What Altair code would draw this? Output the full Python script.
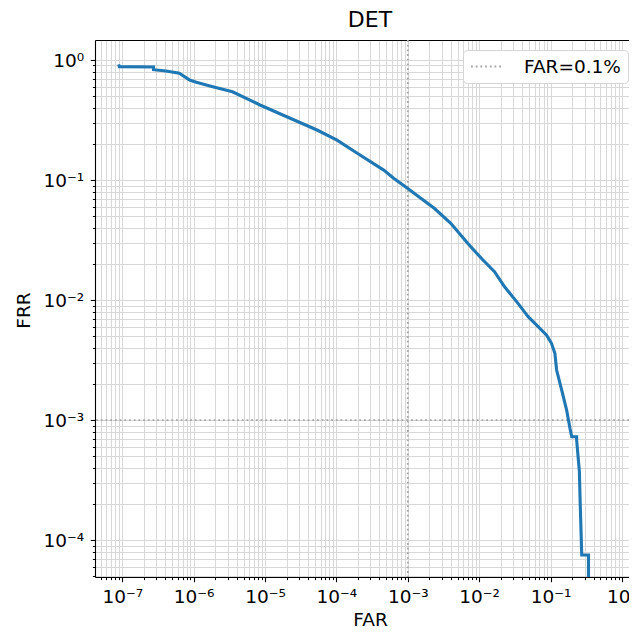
import altair as alt
import pandas as pd

# ---- data ----
far = [8.9e-8, 9.1e-8, 2.74e-7, 2.74e-7, 4.1e-7, 6.3e-7, 8.8e-7, 1.09e-6, 1.85e-6,
       3.5e-6, 6.15e-6, 8.5e-6, 2.25e-5, 5.35e-5, 1.02e-4, 1.96e-4, 4.6e-4, 6.4e-4,
       9.9e-4, 1.52e-3, 2.35e-3, 4.0e-3, 6.9e-3, 1.07e-2, 1.64e-2, 2.27e-2, 3.5e-2,
       4.85e-2, 6.7e-2, 8.8e-2, 0.103, 0.115, 0.1216, 0.143, 0.168, 0.187, 0.198,
       0.232, 0.232, 0.2535, 0.259, 0.2735, 0.34, 0.34]
frr = [0.92, 0.88, 0.874, 0.830, 0.81, 0.775, 0.681, 0.652, 0.599, 0.544, 0.464,
       0.422, 0.327, 0.261, 0.215, 0.167, 0.121, 0.103, 0.0853, 0.0704, 0.0581,
       0.0436, 0.0297, 0.0223, 0.0172, 0.0129, 0.00938, 0.00727, 0.0060, 0.0051,
       0.00436, 0.0036, 0.00261, 0.00178, 0.00121, 0.000853, 0.000726, 0.000726,
       0.000681, 0.000371, 0.000223, 7.5e-5, 7.5e-5, 1e-6]

threshold_far = [1e-3]
threshold_frr = [1e-3]
threshold_label = ["FAR=0.1%"]

x_major = [1e-7, 1e-6, 1e-5, 1e-4, 1e-3, 1e-2, 1e-1, 1e0]
x_labels = ["10⁻⁷", "10⁻⁶", "10⁻⁵", "10⁻⁴", "10⁻³", "10⁻²", "10⁻¹", "10⁰"]
y_major = [1e-4, 1e-3, 1e-2, 1e-1, 1e0]
y_labels = ["10⁻⁴", "10⁻³", "10⁻²", "10⁻¹", "10⁰"]

X_MIN, X_MAX = 4.15e-8, 1.256
Y_MIN, Y_MAX = 4.92e-5, 1.468

x_minor = [m * 10.0 ** e for e in range(-8, 1) for m in range(2, 10)
           if X_MIN <= m * 10.0 ** e <= X_MAX]
y_minor = [m * 10.0 ** e for e in range(-5, 1) for m in range(2, 10)
           if Y_MIN <= m * 10.0 ** e <= Y_MAX]

df = pd.DataFrame({"far": far, "frr": frr, "i": range(len(far))})
vdf = pd.DataFrame({"x": threshold_far, "label": threshold_label})
hdf = pd.DataFrame({"y": threshold_frr, "label": threshold_label})

FONT = "DejaVu Sans"
FS = 18.5
GRID = "#d8d8d8"
BLUE = "#1f77b4"
GRAY = "#a6a6a6"
DASH = [1.8, 2.9]

xs = alt.Scale(type="log", domain=[X_MIN, X_MAX], nice=False)
ys = alt.Scale(type="log", domain=[Y_MIN, Y_MAX], nice=False)


def lbl_expr(labels, first_exp):
    arr = "[" + ",".join("'" + s + "'" for s in labels) + "]"
    return f"{arr}[round(log(datum.value)/LN10)-({first_exp})]"


base = alt.Chart(df)

minor = base.mark_line(opacity=0).encode(
    x=alt.X("far:Q", scale=xs, axis=alt.Axis(
        orient="bottom", values=x_minor, labels=False, tickSize=2.6, tickWidth=1,
        tickColor="black", grid=True, gridColor=GRID, gridWidth=1, domain=False,
        title=None)),
    y=alt.Y("frr:Q", scale=ys, axis=alt.Axis(
        orient="left", values=y_minor, labels=False, tickSize=2.6, tickWidth=1,
        tickColor="black", grid=True, gridColor=GRID, gridWidth=1, domain=False,
        title=None)),
)

major = base.mark_line(opacity=0).encode(
    x=alt.X("far:Q", scale=xs, title="FAR", axis=alt.Axis(
        orient="bottom", values=x_major, labelExpr=lbl_expr(x_labels, -7),
        tickSize=4.7, tickWidth=1.1, tickColor="black", grid=True, gridColor=GRID,
        gridWidth=1, domain=True, domainColor="black", domainWidth=1.1,
        labelFont=FONT, labelFontSize=FS, labelColor="black", labelPadding=6,
        labelFlush=False, labelOverlap=False,
        titleFont=FONT, titleFontSize=FS, titleFontWeight="normal", titleColor="black",
        titleX=275, titleY=48, titleBaseline="alphabetic", titleAlign="center")),
    y=alt.Y("frr:Q", scale=ys, title="FRR", axis=alt.Axis(
        orient="left", values=y_major, labelExpr=lbl_expr(y_labels, -4),
        tickSize=4.7, tickWidth=1.1, tickColor="black", grid=True, gridColor=GRID,
        gridWidth=1, domain=True, domainColor="black", domainWidth=1.1,
        labelFont=FONT, labelFontSize=FS, labelColor="black", labelPadding=6.5,
        labelFlush=False, labelOverlap=False, labelBaseline="middle",
        titleFont=FONT, titleFontSize=FS, titleFontWeight="normal", titleColor="black",
        titleX=-66, titleY=270, titleAngle=270, titleBaseline="alphabetic",
        titleAlign="center")),
)

top_spine = base.mark_line(opacity=0).encode(
    x=alt.X("far:Q", scale=xs, axis=alt.Axis(
        orient="top", values=x_major, labels=False, ticks=False, grid=False,
        domain=True, domainColor="black", domainWidth=1.1, title=None)),
    y=alt.Y("frr:Q", scale=ys, axis=None),
)

curve = base.mark_line(color=BLUE, strokeWidth=3.1, clip=True).encode(
    x=alt.X("far:Q", scale=xs, axis=None),
    y=alt.Y("frr:Q", scale=ys, axis=None),
    order=alt.Order("i:Q"),
)

color_scale = alt.Scale(domain=threshold_label, range=[GRAY])
legend = alt.Legend(
    orient="none", legendX=368, legendY=10, title=None, symbolType="stroke",
    symbolSize=1089, symbolStrokeWidth=1.8, symbolDash=DASH, clipHeight=19,
    labelFont=FONT, labelFontSize=FS, labelColor="black", labelOffset=19,
    padding=7, fillColor="white", strokeColor="#d4d4d4", cornerRadius=4,
)

vrule = alt.Chart(vdf).mark_rule(strokeDash=DASH, strokeWidth=1.8).encode(
    x=alt.X("x:Q", scale=xs, axis=None),
    color=alt.Color("label:N", scale=color_scale, legend=legend),
)
hrule = alt.Chart(hdf).mark_rule(strokeDash=DASH, strokeWidth=1.8).encode(
    y=alt.Y("y:Q", scale=ys, axis=None),
    color=alt.Color("label:N", scale=color_scale, legend=legend),
)

chart = alt.layer(minor, major, top_spine, vrule, hrule, curve).resolve_axis(
    x="independent", y="independent"
).properties(
    width=534, height=537,
    autosize=alt.AutoSizeParams(type="none"),
    padding={"left": 87, "top": 32, "right": 0, "bottom": 51},
    title=alt.TitleParams("DET", font=FONT, fontSize=22, fontWeight="normal",
                          color="black", offset=7, anchor="middle", dx=8),
).configure_view(stroke=None).configure(background="white")

chart.save("out.html", embed_options={"renderer": "svg", "actions": False})
